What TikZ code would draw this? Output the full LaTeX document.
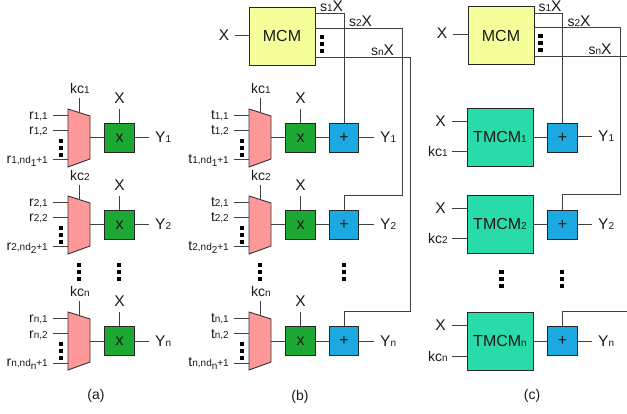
\documentclass[tikz,border=0pt]{standalone}
\usepackage{fontspec}
\setmainfont{Liberation Sans}
\usetikzlibrary{calc}
\definecolor{muxc}{HTML}{FF9999}
\definecolor{mulc}{HTML}{1DA833}
\definecolor{addc}{HTML}{1CA8E0}
\definecolor{mcmc}{HTML}{F5FF99}
\definecolor{tmcmc}{HTML}{28DBA9}
\definecolor{wirec}{HTML}{404040}
\definecolor{textc}{HTML}{1A1A1A}
\newcommand{\fhuge}{\fontsize{16}{17}\selectfont}
\newcommand{\fbig}{\fontsize{15.5}{16}\selectfont}
\newcommand{\fmid}{\fontsize{14}{15}\selectfont}
\newcommand{\fsm}{\fontsize{10}{11}\selectfont}
\newcommand{\lowd}[1]{\raisebox{-3pt}{\fsm #1}}
\tikzset{
  wire/.style={draw=wirec,line width=1pt},
  blockb/.style={draw=black!85,line width=0.9pt,inner sep=0pt,text=textc},
  mulbox/.style={blockb,fill=mulc,minimum width=29.5pt,minimum height=29pt,font=\fhuge},
  addbox/.style={blockb,fill=addc,minimum width=29.5pt,minimum height=29pt,font=\fhuge},
  mcmbox/.style={blockb,fill=mcmc,minimum width=66pt,minimum height=58pt,font=\fhuge},
  tmcmbox/.style={blockb,fill=tmcmc,minimum width=66pt,minimum height=58pt,font=\fhuge},
  muxshape/.style={draw=black!80,line width=0.9pt,fill=muxc},
  lab/.style={inner sep=0pt,text=textc,font=\fmid},
  labbig/.style={inner sep=0pt,text=textc,font=\fbig},
}
% three square dots, vertical, centred on (#1,#2)
\newcommand{\vdotsq}[2]{\foreach \dd in {-7,0,7}{\fill[black] (#1-2.4,#2+\dd-2.4) rectangle (#1+2.4,#2+\dd+2.4);}}
% \muxrow{prefix}{letter}{dx}{cy}{index}
\newcommand{\muxrow}[5]{%
  \coordinate (#1tl) at (68+#3,#4-29);
  \coordinate (#1tr) at (90+#3,#4-22);
  \coordinate (#1br) at (90+#3,#4+21);
  \coordinate (#1bl) at (68+#3,#4+29);
  \coordinate (#1kct) at (79+#3,#4-40);
  \coordinate (#1kcb) at ($(#1tl)!0.5!(#1tr)$);
  \filldraw[muxshape] (#1tl) -- (#1tr) -- (#1br) -- (#1bl) -- cycle;
  \coordinate (#1out) at (90+#3,#4);
  \node[mulbox] (#1mul) at (119.5+#3,#4) {x};
  \draw[wire] (#1out) -- (#1mul.west);
  \draw[wire] (#1kct) -- (#1kcb);
  \node[lab,anchor=base] (#1kc) at (80+#3,#4-44) {kc{\fsm #5}};
  \coordinate (#1xt) at (119.5+#3,#4-29);
  \node[labbig,anchor=base] (#1x) at (119.5+#3,#4-34) {X};
  \draw[wire] (#1xt) -- (#1mul.north);
  \foreach \yy/\nm in {-22/a,-7/b,22/c}{
    \coordinate (#1in\nm) at (53+#3,#4+\yy);
    \coordinate (#1ed\nm) at (68+#3,#4+\yy);
    \draw[wire] (#1in\nm) -- (#1ed\nm);
  }
  \node[lab,anchor=base east] (#1la) at (48+#3,#4-22+4) {#2{\fsm #5,1}};
  \node[lab,anchor=base east] (#1lb) at (48+#3,#4-7+4) {#2{\fsm #5,2}};
  \node[lab,anchor=base east] (#1lc) at (48+#3,#4+22+3.5) {#2{\fsm #5,nd}\lowd{#5}{\fsm +1}};
  \vdotsq{61+#3}{#4+10}
}
% \outp{from node}{y}{x}{sub}
\newcommand{\outp}[4]{%
  \coordinate (#1end) at (#3,#2);
  \draw[wire] (#1.east |- #1end) -- (#1end);
  \node[labbig,anchor=base west] (#1lab) at (#3+6,#2+5) {Y{\fsm #4}};
}
\begin{document}
\begin{tikzpicture}[x=1pt,y=-1pt]
\useasboundingbox (0,0) rectangle (627,414);
\fill[white] (0,0) rectangle (627,414);
% ---------- (a)
\muxrow{aa}{r}{0}{138}{1}
\muxrow{ab}{r}{0}{225}{2}
\muxrow{ac}{r}{0}{341}{n}
\outp{aamul}{138}{149}{1}
\outp{abmul}{225}{149}{2}
\outp{acmul}{341}{149}{n}
\vdotsq{79}{272}
\vdotsq{119}{272}
\node[lab] (capa) at (96,396) {(a)};
% ---------- (b)
\muxrow{ba}{t}{181}{138}{1}
\muxrow{bb}{t}{181}{225}{2}
\muxrow{bc}{t}{181}{341}{n}
\node[addbox] (baadd) at (344,138) {+};
\node[addbox] (bbadd) at (344,225) {+};
\node[addbox] (bcadd) at (344,341) {+};
\foreach \rr in {a,b,c}{\draw[wire] (b\rr mul.east) -- (b\rr add.west);}
\outp{baadd}{138}{374}{1}
\outp{bbadd}{225}{374}{2}
\outp{bcadd}{341}{374}{n}
\vdotsq{260}{272}
\vdotsq{344}{272}
\node[mcmbox] (bmcm) at (282,36) {MCM};
\coordinate (bxin) at (235,36);
\draw[wire] (bxin) -- (bmcm.west |- bxin);
\node[labbig] (bxl) at (224,35.5) {X};
\coordinate (bs1) at (315,14);
\coordinate (bs2) at (315,29);
\coordinate (bs3) at (315,58);
\draw[wire] (bs1) -| (baadd.north);
\draw[wire] (bs2) -- (402,29) -- (402,196) -- (344,196) -- (bbadd.north);
\draw[wire] (bs3) -- (410,58) -- (410,312) -- (344,312) -- (bcadd.north);
\vdotsq{322}{44}
\node[labbig,anchor=base] (bs1l) at (331.5,12) {{\fmid s\fsm 1}X};
\node[labbig,anchor=base] (bs2l) at (360.5,27) {{\fmid s\fsm 2}X};
\node[labbig,anchor=base] (bs3l) at (382.5,56) {{\fmid s\fsm n}X};
\node[lab] (capb) at (300,397) {(b)};
% ---------- (c)
\node[mcmbox] (cmcm) at (501,35.5) {MCM};
\coordinate (cxin) at (453,35);
\draw[wire] (cxin) -- (cmcm.west |- cxin);
\node[labbig] (cxl) at (442,33.5) {X};
\foreach \rr/\cy/\ys/\ss in {a/137/138/1,b/224/225/2,c/341/341/n}{
  \node[tmcmbox] (c\rr t) at (500,\cy) {TMCM{\fsm \ss}};
  \node[addbox] (c\rr add) at (562.5,\ys) {+};
  \draw[wire] (c\rr t.east |- c\rr add) -- (c\rr add.west);
  \coordinate (c\rr x) at (452,\cy-15);
  \coordinate (c\rr k) at (452,\cy+15);
  \draw[wire] (c\rr x) -- (c\rr t.west |- c\rr x);
  \draw[wire] (c\rr k) -- (c\rr t.west |- c\rr k);
  \node[labbig] (c\rr xl) at (440.5,\cy-16) {X};
  \node[lab,anchor=base east] (c\rr kl) at (448,\cy+20) {kc{\fsm \ss}};
}
\outp{caadd}{137}{592}{1}
\outp{cbadd}{225}{592}{2}
\outp{ccadd}{341}{592}{n}
\coordinate (cs1) at (534,14);
\coordinate (cs2) at (534,28);
\coordinate (cs3) at (534,57);
\coordinate (cedge1) at (627,57);
\coordinate (cedge2) at (627,312);
\draw[wire] (cs1) -| (caadd.north);
\draw[wire] (cs2) -- (620,28) -- (620,195) -- (562.5,195) -- (cbadd.north);
\draw[wire] (cs3) -- (cedge1);
\draw[wire] (cedge2) -- (562.5,312) -- (ccadd.north);
\vdotsq{540.5}{43}
\vdotsq{501.5}{279}
\vdotsq{562}{279}
\node[labbig,anchor=base] (cs1l) at (550,12) {{\fmid s\fsm 1}X};
\node[labbig,anchor=base] (cs2l) at (579,27) {{\fmid s\fsm 2}X};
\node[labbig,anchor=base] (cs3l) at (600,55) {{\fmid s\fsm n}X};
\node[lab] (capc) at (532,396) {(c)};
\end{tikzpicture}
\end{document}
